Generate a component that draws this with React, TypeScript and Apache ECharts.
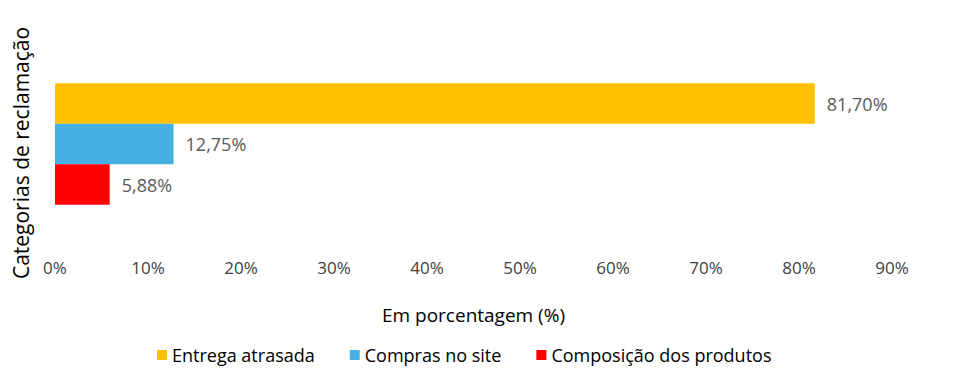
import React, { useEffect, useRef } from "react";
import * as echarts from "echarts";

const seriesNames = ["Entrega atrasada", "Compras no site", "Composição dos produtos"];
const seriesValues = [81.7, 12.75, 5.88];
const seriesColors = ["#FFC000", "#45B0E1", "#FF0000"];
const categories = [""];
const xTicks = { min: 0, max: 90, interval: 10 };
const yTitle = "Categorias de reclamação";
const xTitle = "Em porcentagem (%)";

export default function App() {
  const ref = useRef<HTMLDivElement>(null);
  useEffect(() => {
    if (!ref.current) return;
    const chart = echarts.init(ref.current, null, { renderer: "svg" });
    const font = "'Open Sans', Roboto, sans-serif";
    chart.setOption({
      animation: false,
      grid: { left: 47, right: 80, top: 30, bottom: 126, containLabel: false },
      legend: {
        top: 338,
        left: 149,
        padding: 0,
        icon: "rect",
        itemWidth: 10,
        itemHeight: 10,
        itemGap: 35,
        textStyle: { fontFamily: font, fontSize: 18, color: "#000000" },
        data: seriesNames,
      },
      graphic: [
        {
          type: "text",
          x: 13,
          y: 145,
          rotation: Math.PI / 2,
          style: {
            text: yTitle,
            fontFamily: font,
            fontSize: 21,
            fill: "#000000",
            align: "center",
            verticalAlign: "middle",
          },
        },
      ],
      xAxis: {
        type: "value",
        min: xTicks.min,
        max: xTicks.max,
        interval: xTicks.interval,
        axisLine: { show: false },
        axisTick: { show: false },
        splitLine: { show: false },
        axisLabel: {
          formatter: "{value}%",
          fontFamily: font,
          fontSize: 17,
          color: "#404040",
          margin: 9,
        },
        name: xTitle,
        nameLocation: "middle",
        nameGap: 55,
        nameTextStyle: { fontFamily: font, fontSize: 19, color: "#000000" },
      },
      yAxis: {
        type: "category",
        data: categories,
        inverse: true,
        axisLine: { show: false },
        axisTick: { show: false },
        axisLabel: { show: false },
      },
      series: seriesNames.map((name, i) => ({
        name,
        type: "bar",
        data: [seriesValues[i]],
        barWidth: 40.5,
        barGap: "0%",
        itemStyle: { color: seriesColors[i] },
        label: {
          show: true,
          position: "right",
          distance: 12,
          fontFamily: font,
          fontSize: 18,
          color: "#595959",
          formatter: (p: any) => p.value.toFixed(2).replace(".", ",") + "%",
        },
      })),
    });
    return () => chart.dispose();
  }, []);
  return <div ref={ref} style={{ width: 964, height: 368 }} />;
}
